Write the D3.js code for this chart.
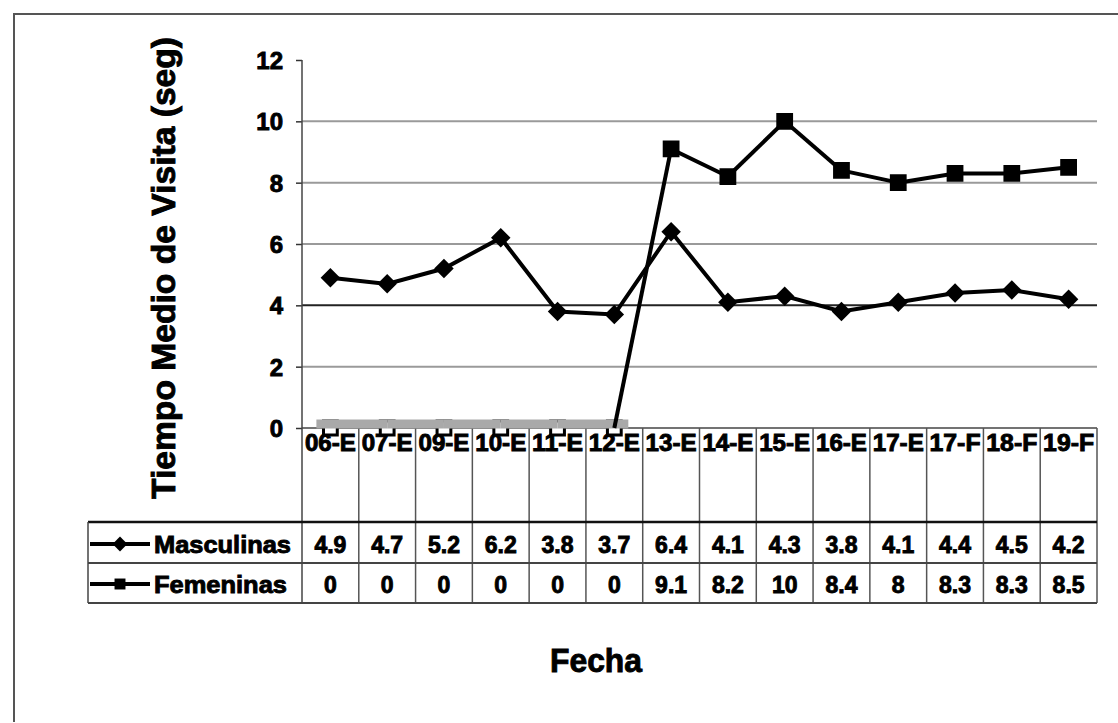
<!DOCTYPE html>
<html><head><meta charset="utf-8">
<script src="https://cdn.jsdelivr.net/npm/d3@7"></script>
<style>body{margin:0;background:#fff}svg{display:block}text{font-family:"Liberation Sans",Arial,sans-serif;font-weight:bold;fill:#000;stroke:#000;stroke-width:0.9px}</style>
</head><body><svg id="c" width="1118" height="723"></svg>
<script>
const categories = ["06-E","07-E","09-E","10-E","11-E","12-E","13-E","14-E","15-E","16-E","17-E","17-F","18-F","19-F"];
const masculinas = [4.9,4.7,5.2,6.2,3.8,3.7,6.4,4.1,4.3,3.8,4.1,4.4,4.5,4.2];
const femeninas  = [0,0,0,0,0,0,9.1,8.2,10,8.4,8,8.3,8.3,8.5];
const yTicks = [0,2,4,6,8,10,12];
const seriesNames = ["Masculinas","Femeninas"];
const yTitle = "Tiempo Medio de Visita (seg)";
const xTitle = "Fecha";

const svg = d3.select("#c");
const L = 302, R = 1097, T = 60, B = 428;
const tableTop = 522, rowMid = 563, tableBot = 603, legL = 88;
const x = d3.scaleBand().domain(categories).range([L, R]).padding(0);
const y = d3.scaleLinear().domain([0, 12]).range([B, T]);
const cx = d => x(d) + x.bandwidth() / 2;

// outer frame
svg.append("path").attr("d", `M14,722 L14,14 L1118,14`).attr("fill","none").attr("stroke","#555").attr("stroke-width",2);

// gridlines
svg.append("g").selectAll("line").data(yTicks.filter(t => t > 0 && t < 12)).join("line")
  .attr("x1", L).attr("x2", R).attr("y1", d => y(d)).attr("y2", d => y(d))
  .attr("stroke", d => d === 4 ? "#222" : "#9a9a9a").attr("stroke-width", 2);

// y axis
const yAxis = d3.axisLeft(y).tickValues(yTicks).tickSize(6).tickPadding(13).tickFormat(d3.format("d"));
const ga = svg.append("g").attr("transform", `translate(${L},0)`).call(yAxis);
ga.select(".domain").remove();
ga.selectAll(".tick line").attr("stroke", "#333").attr("stroke-width", 1.5);
ga.selectAll(".tick text").attr("font-size", 24).attr("font-family", "Liberation Sans, Arial").attr("font-weight", "bold")
  .attr("fill", "#000").attr("stroke","#000").attr("stroke-width",1).attr("dy","0.36em");
svg.append("line").attr("x1", L).attr("x2", L).attr("y1", T).attr("y2", tableBot).attr("stroke", "#444").attr("stroke-width", 1.5);
svg.append("line").attr("x1", L).attr("x2", R).attr("y1", B).attr("y2", B).attr("stroke", "#444").attr("stroke-width", 1.5);

// table grid
const edges = categories.map(c => x(c)).concat([R]);
svg.append("g").selectAll("line").data(edges.slice(1)).join("line")
  .attr("x1", d => d).attr("x2", d => d).attr("y1", B).attr("y2", tableBot)
  .attr("stroke", "#555").attr("stroke-width", 1.5);
[tableTop, rowMid, tableBot].forEach((yy, i) => {
  svg.append("line").attr("x1", legL).attr("x2", R).attr("y1", yy).attr("y2", yy)
    .attr("stroke", i === 0 ? "#111" : "#444").attr("stroke-width", i === 0 ? 2.5 : 2);
});
svg.append("line").attr("x1", legL).attr("x2", legL).attr("y1", tableTop).attr("y2", tableBot).attr("stroke", "#444").attr("stroke-width", 1.5);

// category labels
svg.append("g").selectAll("text").data(categories).join("text")
  .attr("x", d => cx(d)).attr("y", 451).attr("text-anchor", "middle").attr("font-size", 23)
  .attr("textLength", 51).attr("lengthAdjust", "spacingAndGlyphs").text(d => d);

// values in table
[masculinas, femeninas].forEach((vals, i) => {
  svg.append("g").selectAll("text").data(vals).join("text")
    .attr("x", (d, j) => cx(categories[j])).attr("y", i === 0 ? 553 : 593)
    .attr("text-anchor", "middle").attr("font-size", 23).text(d => d);
});

// legend in table
const sq = d3.symbol().type(d3.symbolSquare).size(120);
const dm = d3.symbol().type(d3.symbolSquare).size(110);
seriesNames.forEach((n, i) => {
  const yy = i === 0 ? 544 : 584;
  svg.append("line").attr("x1", 90).attr("x2", 150).attr("y1", yy).attr("y2", yy).attr("stroke", "#000").attr("stroke-width", 4);
  svg.append("path").attr("d", i === 0 ? dm() : sq()).attr("transform", `translate(120,${yy}) rotate(${i === 0 ? 45 : 0})`).attr("fill", "#000");
  svg.append("text").attr("x", 154).attr("y", yy + 9).attr("font-size", 24)
    .attr("textLength", i === 0 ? 137 : 133).attr("lengthAdjust", "spacingAndGlyphs").text(n);
});

// femeninas series
const line = d3.line().x((d, i) => cx(categories[i])).y(d => y(d));
const fsq = d3.symbol().type(d3.symbolSquare).size(190);
svg.append("g").selectAll("path").data(femeninas).join("path")
  .attr("d", fsq()).attr("transform", (d, i) => `translate(${cx(categories[i])},${y(d)})`)
  .attr("fill", d => d === 0 ? "#fff" : "#000").attr("stroke", "#000").attr("stroke-width", 3);
femeninas.slice(1).forEach((v, k) => {
  const a = femeninas[k], b = v;
  const zero = a === 0 && b === 0;
  svg.append("line")
    .attr("x1", cx(categories[k]) - (zero && k === 0 ? 14 : 0)).attr("y1", y(a) - (zero ? 4 : 0))
    .attr("x2", cx(categories[k + 1]) + (zero && femeninas[k + 2] !== 0 ? 14 : 0)).attr("y2", y(b) - (zero ? 4 : 0))
    .attr("stroke", zero ? "#a9a9a9" : "#000").attr("stroke-width", zero ? 9 : 4).attr("stroke-linecap", "butt");
});

// masculinas series
svg.append("path").datum(masculinas).attr("d", line).attr("fill", "none").attr("stroke", "#000").attr("stroke-width", 4);
const mdm = d3.symbol().type(d3.symbolSquare).size(190);
svg.append("g").selectAll("path").data(masculinas).join("path")
  .attr("d", mdm()).attr("transform", (d, i) => `translate(${cx(categories[i])},${y(d)}) rotate(45)`).attr("fill", "#000");

// titles
svg.append("text").attr("transform", `translate(175,268) rotate(-90)`).attr("text-anchor", "middle").attr("font-size", 33)
  .attr("textLength", 462).attr("lengthAdjust", "spacingAndGlyphs").text(yTitle);
svg.append("text").attr("x", 596).attr("y", 672).attr("text-anchor", "middle").attr("font-size", 33)
  .attr("textLength", 92).attr("lengthAdjust", "spacingAndGlyphs").text(xTitle);
</script></body></html>
